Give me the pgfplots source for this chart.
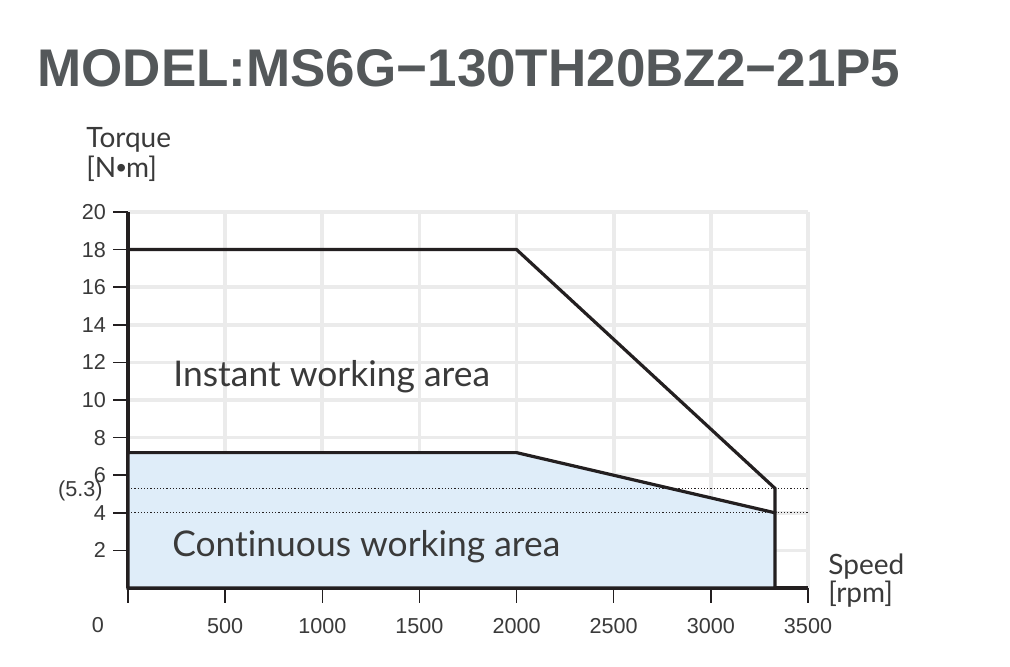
\documentclass[border=0pt]{standalone}
\usepackage{fontspec}
\setmainfont{Liberation Sans}
\newfontfamily\lato{Lato}[Ligatures=NoCommon]
\usepackage{pgfplots}
\pgfplotsset{compat=1.18}
\definecolor{axcol}{HTML}{231F20}
\definecolor{gridc}{HTML}{EBEBEB}
\definecolor{fillc}{HTML}{DFEDF9}
\definecolor{titlec}{HTML}{54585A}
\definecolor{txt}{HTML}{3A3A3A}
\begin{document}
\begin{tikzpicture}
\useasboundingbox (0,0) rectangle (505pt,333.5pt);
\fill[white] (0,0) rectangle (505pt,333.5pt);
\node[anchor=base west, inner sep=0, text=titlec, font=\fontsize{26.5}{30}\selectfont\bfseries] at (18.5pt,290pt) {MODEL:MS6G−130TH20BZ2−21P5};
\begin{axis}[
 at={(64pt,39.5pt)}, anchor=south west,
 scale only axis, width=340pt, height=188pt,
 xmin=0,xmax=3500,ymin=0,ymax=20,
 axis x line*=bottom, axis y line*=left,
 axis line style={line width=1.6pt, color=axcol},
 xtick={0,500,...,3500}, ytick={2,4,...,20},
 xticklabels={,500,1000,1500,2000,2500,3000,3500},
 grid=major, major grid style={gridc, line width=1.8pt},
 tick align=outside, major tick length=7.5pt,
 tick style={axcol, line width=0.75pt},
 ticklabel style={font=\fontsize{10.8}{12}\selectfont, text=txt},
 xticklabel style={yshift=-4pt},
 /pgf/number format/assume math mode=true,
 /pgf/number format/1000 sep={},
 clip=false,
]
\addplot[fill=fillc, draw=axcol, line width=1.6pt] coordinates {(0,7.2)(2000,7.2)(3330,4)} \closedcycle;
\addplot[axcol, line width=0.6pt, dash pattern=on 0.6pt off 1pt] coordinates {(0,5.3)(3500,5.3)};
\addplot[axcol, line width=0.6pt, dash pattern=on 0.6pt off 1pt] coordinates {(0,4)(3500,4)};
\addplot[axcol, line width=1.6pt] coordinates {(0,18)(2000,18)(3330,5.3)(3330,4)};
\node[anchor=base west, inner sep=0, font=\lato\fontsize{17.7}{20}\selectfont, text=txt] at (axis cs:232,10.7) {Instant working area};
\node[anchor=base west, inner sep=0, font=\lato\fontsize{17.7}{20}\selectfont, text=txt] at (axis cs:226,1.65) {Continuous working area};
\node[inner sep=0, font=\fontsize{10.8}{12}\selectfont, text=txt] at (axis cs:0,0) [xshift=-15pt, yshift=-18.5pt] {0};
\node[anchor=east, inner sep=0, font=\fontsize{10.8}{12}\selectfont, text=txt] at (axis cs:0,5.3) [xshift=-12.5pt, yshift=-1.5pt] {(5.3)};
\end{axis}
\node[anchor=base west, inner sep=0, font=\lato\fontsize{14}{16}\selectfont, text=txt] at (43pt,259.5pt) {Torque};
\node[anchor=base west, inner sep=0, font=\lato\fontsize{14}{16}\selectfont, text=txt] at (43pt,244.5pt) {[N{\rmfamily •}m]};
\node[anchor=base west, inner sep=0, font=\lato\fontsize{14}{16}\selectfont, text=txt] at (414pt,46pt) {Speed};
\node[anchor=base west, inner sep=0, font=\lato\fontsize{14}{16}\selectfont, text=txt] at (414pt,32pt) {[rpm]};
\end{tikzpicture}
\end{document}
